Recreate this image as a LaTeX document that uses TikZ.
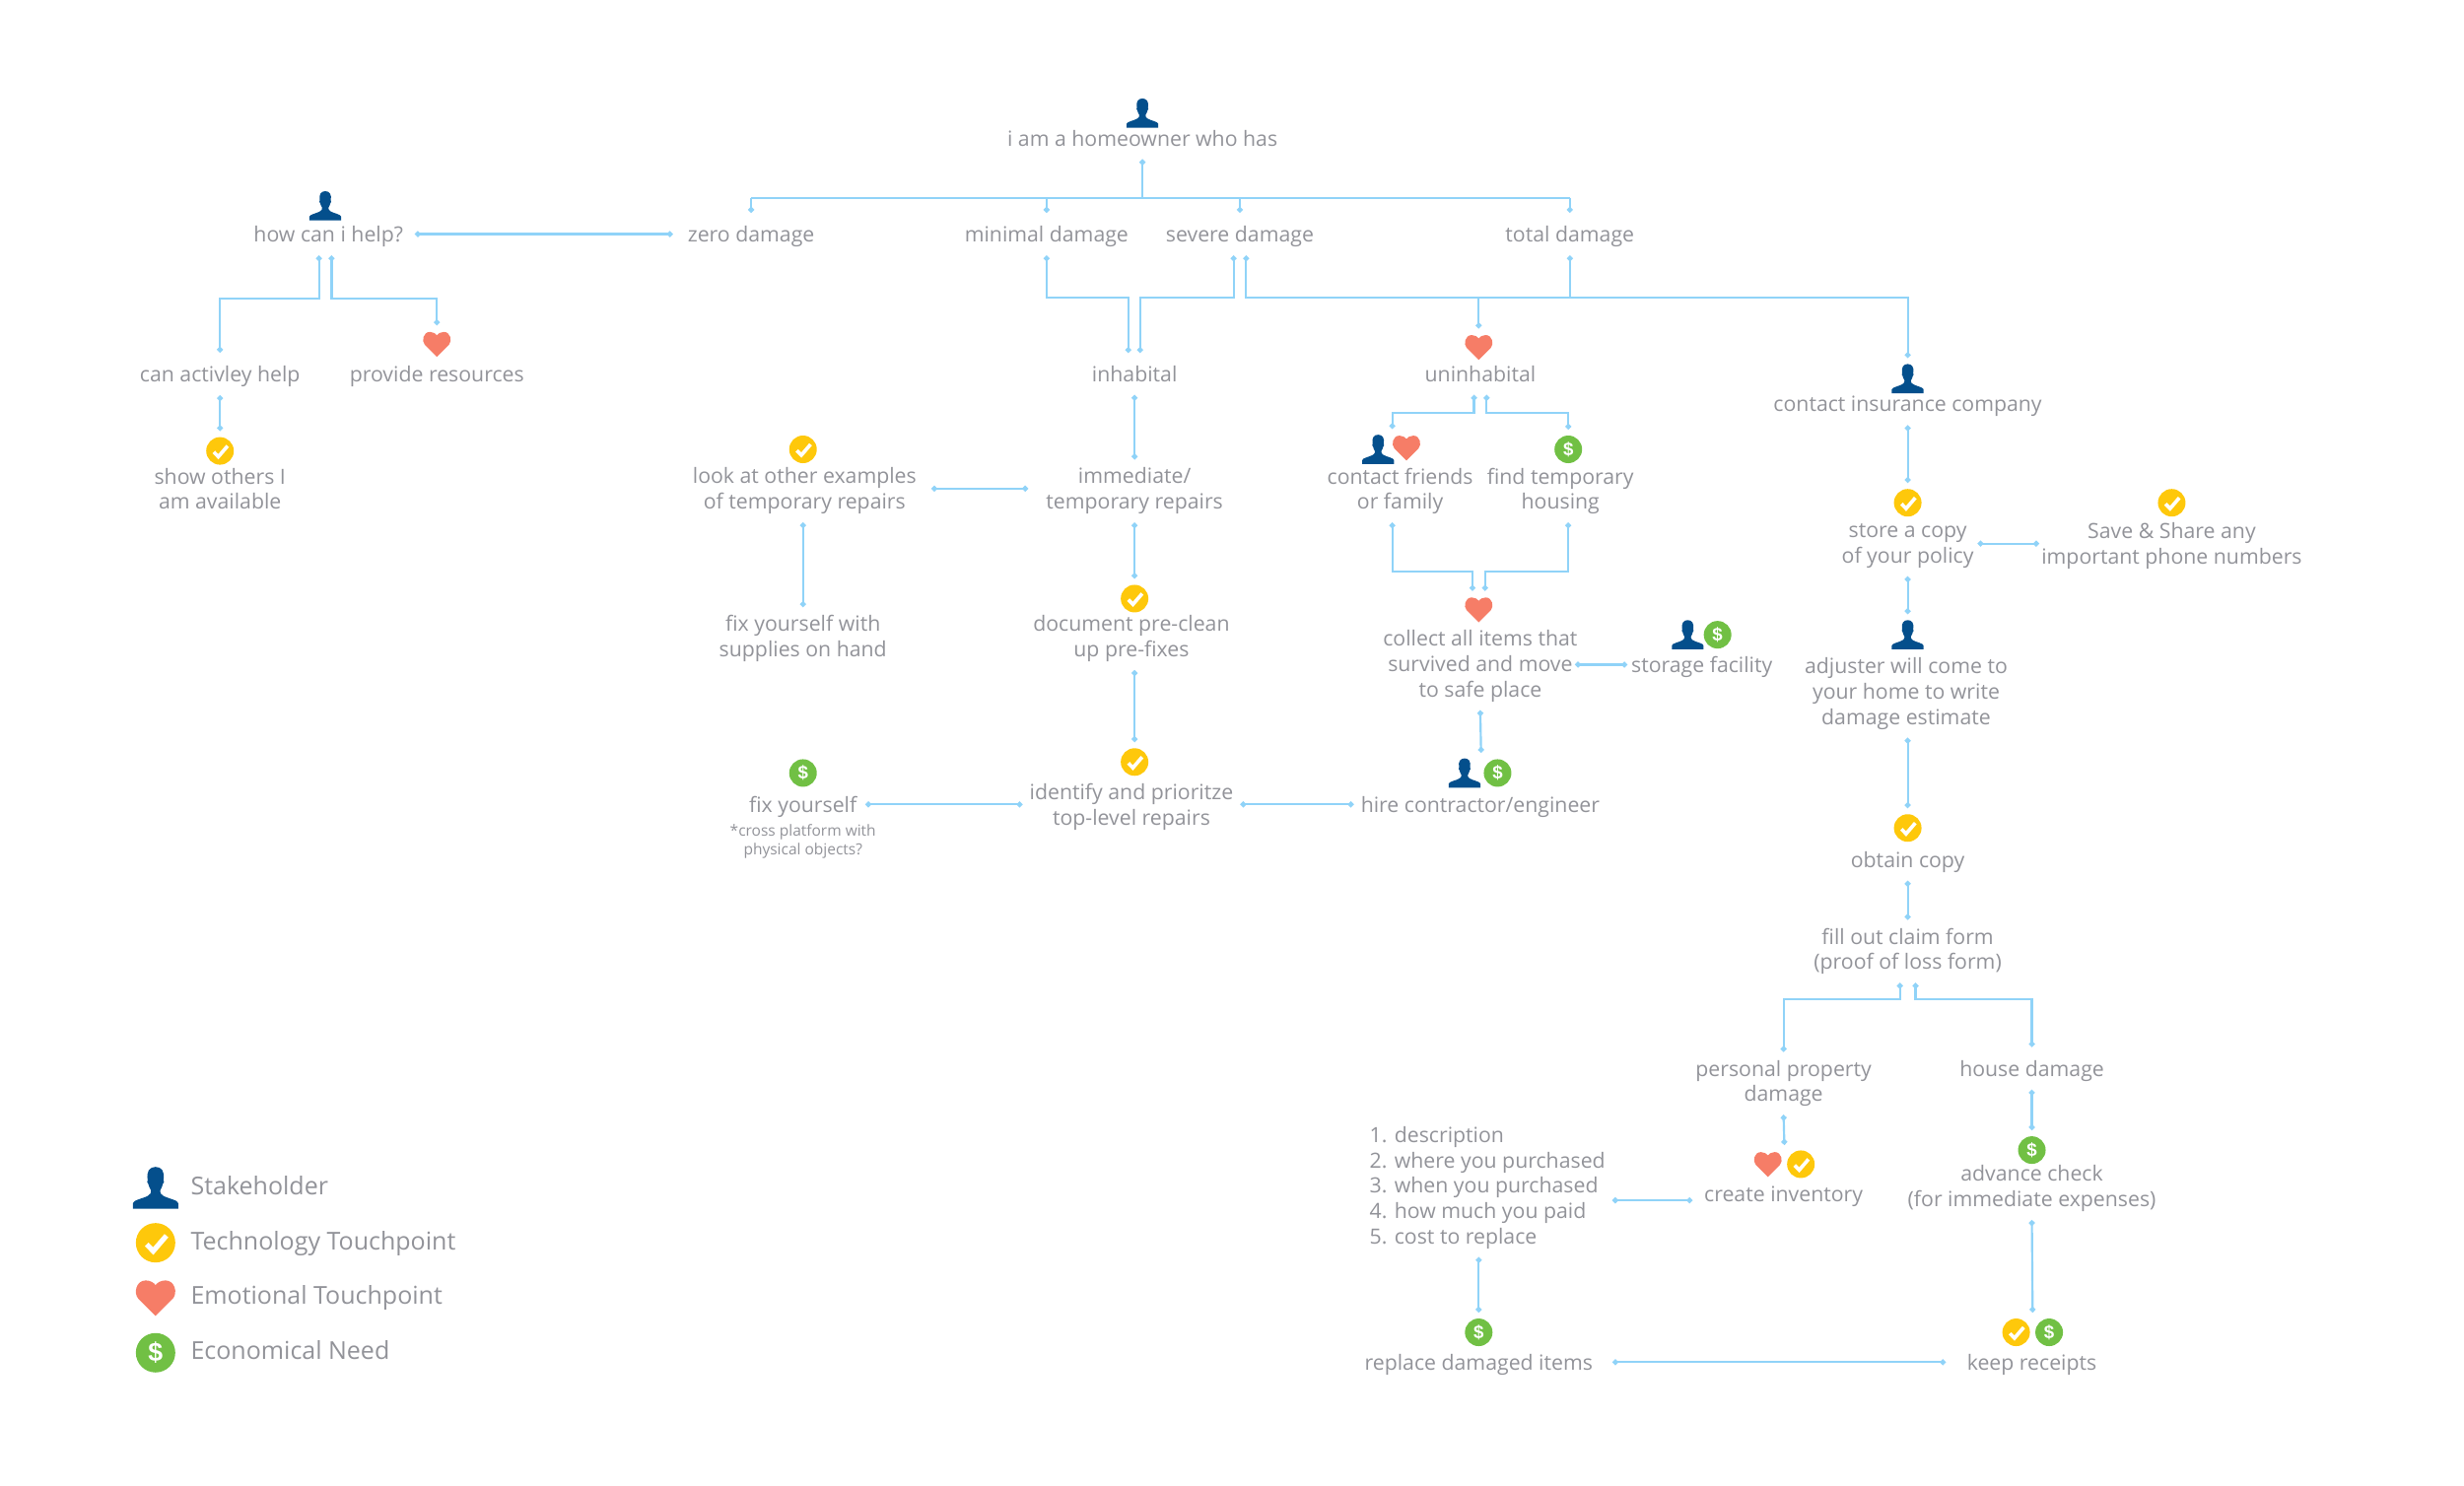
\documentclass[tikz,border=0pt]{standalone}
\usepackage{fontspec}
\setmainfont{Open Sans}
\newfontfamily\iconfont{Liberation Sans}
\usetikzlibrary{arrows.meta,calc}
\definecolor{txtc}{HTML}{929399}
\definecolor{linec}{HTML}{90D3F8}
\definecolor{persc}{HTML}{044F8C}
\definecolor{techc}{HTML}{FEC80B}
\definecolor{heartc}{HTML}{F67D67}
\definecolor{monc}{HTML}{71C044}
\newdimen\du \du=0.4783pt
\newcommand\lblstrut{\rule[-0.17\baselineskip]{0pt}{\baselineskip}}
\tikzset{
 lbl/.style={text=txtc,align=center,inner ysep=2.4pt,inner xsep=2pt,font=\fontsize{6.38}{7.68}\selectfont,
   execute at begin node=\lblstrut,execute at end node=\lblstrut},
 smalllbl/.style={lbl,font=\fontsize{4.65}{5.6}\selectfont},
 listlbl/.style={lbl,align=left,anchor=west},
 leglbl/.style={text=txtc,anchor=west,inner sep=0pt,text height=5.7pt,text depth=1.6pt,font=\fontsize{7.5}{9}\selectfont},
 conn/.style={draw=linec,line width=0.65pt,{Circle[length=1.7pt]}-{Circle[length=1.7pt]}},
 connin/.style={draw=linec,line width=0.65pt,-{Circle[length=1.7pt]}},
 connout/.style={draw=linec,line width=0.65pt,{Circle[length=1.7pt]}-},
 connbus/.style={draw=linec,line width=0.65pt},
 techicon/.default=8.4pt,
 techicon/.style={circle,fill=techc,minimum size=#1,inner sep=0pt,outer sep=1.9pt,
   path picture={\begin{scope}[shift={(path picture bounding box.center)},x=#1,y=#1]
     \draw[white,line width=0.13*#1,miter limit=10] (-.225,-.04) -- (-.06,-.21) -- (.275,.18);
   \end{scope}}},
 moneyicon/.default=8.4pt,
 moneyicon/.style={circle,fill=monc,minimum size=#1,inner sep=0pt,outer sep=1.9pt,text=white,
   font=\iconfont\bfseries\fontsize{5.6}{5.6}\selectfont},
 legmoney/.style={moneyicon=12pt,font=\iconfont\bfseries\fontsize{8}{8}\selectfont},
 hearticon/.default=8.4pt,
 hearticon/.style={rectangle,minimum width=#1,minimum height=0.92*#1,inner sep=0pt,outer sep=1.9pt,
   path picture={\begin{scope}[shift={(path picture bounding box.center)},x=#1,y=#1]
     \fill[heartc] (0,-.46) -- (-.44,-.02) .. controls (-.56,.11) and (-.5,.44) .. (-.25,.44)
       .. controls (-.13,.44) and (-.04,.38) .. (0,.32)
       .. controls (.04,.38) and (.13,.44) .. (.25,.44)
       .. controls (.5,.44) and (.56,.11) .. (.44,-.02) -- cycle;
   \end{scope}}},
 personicon/.default=8.4pt,
 personicon/.style={rectangle,minimum width=1.2*#1,minimum height=1.06*#1,inner sep=0pt,outer sep=1.9pt,
   path picture={\begin{scope}[shift={(path picture bounding box.center)},x=#1,y=#1]
     \fill[persc] (-.575,-.53) -- (-.575,-.39) .. controls (-.57,-.31) and (-.3,-.27) .. (-.19,-.2)
       .. controls (-.13,-.17) and (-.11,-.12) .. (-.115,-.07)
       .. controls (-.16,0) and (-.17,.05) .. (-.185,.1)
       .. controls (-.22,.11) and (-.22,.17) .. (-.2,.2)
       .. controls (-.24,.42) and (-.15,.53) .. (0,.53)
       .. controls (.15,.53) and (.24,.42) .. (.2,.2)
       .. controls (.22,.17) and (.22,.11) .. (.185,.1)
       .. controls (.17,.05) and (.16,0) .. (.115,-.07)
       .. controls (.11,-.12) and (.13,-.17) .. (.19,-.2)
       .. controls (.3,-.27) and (.57,-.31) .. (.575,-.39) -- (.575,-.53) -- cycle;
   \end{scope}}},
}
\begin{document}
\begin{tikzpicture}[x=0.4783pt,y=-0.4783pt]
\useasboundingbox (0,0) rectangle (1568,945.8);
% top
\node[personicon] (ihome) at (727,72) {};
\node[lbl] (thome) at (727,88) {i am a homeowner who has};
\node[personicon] (ihelp) at (207,131) {};
\node[lbl] (thelp) at (209,149) {how can i help?};
\node[lbl] (tzero) at (478,149) {zero damage};
\node[lbl] (tmin) at (666,149) {minimal damage};
\node[lbl] (tsev) at (789,149) {severe damage};
\node[lbl] (ttotal) at (999,149) {total damage};
% left tree
\node[lbl] (tcan) at (140,238) {can activley help};
\node[hearticon] (iprov) at (278,219) {};
\node[lbl] (tprov) at (278,238) {provide resources};
\node[techicon] (ishow) at (140,287) {};
\node[lbl] (tshow) at (140,312.5) {show others I\\am available};
% inhabital column
\node[lbl] (tinh) at (722,238) {inhabital};
\node[techicon] (ilook) at (511,286) {};
\node[lbl] (tlook) at (512,312.5) {look at other examples\\of temporary repairs};
\node[lbl] (timm) at (722,312.5) {immediate/\\temporary repairs};
\node[lbl] (tfixw) at (511,406.5) {fix yourself with\\supplies on hand};
\node[techicon] (idoc) at (722,381) {};
\node[lbl] (tdoc) at (720,406.5) {document pre-clean\\up pre-fixes};
\node[moneyicon] (ifix) at (511,492) {\$};
\node[lbl] (tfix) at (511,512) {fix yourself};
\node[smalllbl] (tcross) at (511,535.5) {*cross platform with\\physical objects?};
\node[techicon] (iid) at (722,485) {};
\node[lbl] (tid) at (720,513.5) {identify and prioritze\\top-level repairs};
% uninhabital column
\node[hearticon] (iunin) at (941,221) {};
\node[lbl] (tunin) at (942,238) {uninhabital};
\node[personicon] (ifr1) at (877,286) {};
\node[hearticon] (ifr2) at (895,285) {};
\node[lbl] (tfr) at (891,312.5) {contact friends\\or family};
\node[moneyicon] (ihou) at (998,286) {\$};
\node[lbl] (thou) at (993,312.5) {find temporary\\housing};
\node[hearticon] (icol) at (941,388) {};
\node[lbl] (tcol) at (942,424) {collect all items that\\survived and move\\to safe place};
\node[personicon] (isto1) at (1074,404) {};
\node[moneyicon] (isto2) at (1093,404) {\$};
\node[lbl] (tsto) at (1083,423) {storage facility};
\node[personicon] (ihire1) at (932,492) {};
\node[moneyicon] (ihire2) at (953,492) {\$};
\node[lbl] (thire) at (942,512) {hire contractor/engineer};
% insurance column
\node[personicon] (iins) at (1214,241) {};
\node[lbl] (tins) at (1214,257) {contact insurance company};
\node[techicon] (isto) at (1214,320) {};
\node[lbl] (tstore) at (1214,347.5) {store a copy\\of your policy};
\node[techicon] (isave) at (1382,320) {};
\node[lbl] (tsave) at (1382,347.5) {Save \& Share any\\important phone numbers};
\node[personicon] (iadj) at (1214,404) {};
\node[lbl] (tadj) at (1213,441.5) {adjuster will come to\\your home to write\\damage estimate};
\node[techicon] (iobt) at (1214,527) {};
\node[lbl] (tobt) at (1214,547) {obtain copy};
\node[lbl] (tfill) at (1214,605.5) {fill out claim form\\(proof of loss form)};
\node[lbl] (tpers) at (1135,689.5) {personal property\\damage};
\node[lbl] (thse) at (1293,680) {house damage};
\node[moneyicon] (iadv) at (1293,732) {\$};
\node[lbl] (tadv) at (1293,756.5) {advance check\\(for immediate expenses)};
\node[hearticon] (iinv1) at (1125,741) {};
\node[techicon] (iinv2) at (1146,741) {};
\node[lbl] (tinv) at (1135,760) {create inventory};
\node[listlbl] (tlist) at (867,756) {1. description\\2. where you purchased\\3. when you purchased\\4. how much you paid\\5. cost to replace};
\node[moneyicon] (irep) at (941,848) {\$};
\node[lbl] (trep) at (941,867) {replace damaged items};
\node[techicon] (ikeep1) at (1283,848) {};
\node[moneyicon] (ikeep2) at (1304,848) {\$};
\node[lbl] (tkeep) at (1293,867) {keep receipts};
% legend
\node[personicon=12pt] (lper) at (99,756) {};
\node[leglbl] (lpert) at (121,756) {Stakeholder};
\node[techicon=12pt] (ltec) at (99,791) {};
\node[leglbl] (ltect) at (121,791) {Technology Touchpoint};
\node[hearticon=12pt] (lhea) at (99,826) {};
\node[leglbl] (lheat) at (121,826) {Emotional Touchpoint};
\node[legmoney] (lmon) at (99,861) {\$};
\node[leglbl] (lmont) at (121,861) {Economical Need};
% bus heights
\coordinate (busTop) at (0,126);
\coordinate (busHelp) at (0,190);
\coordinate (busSev) at (0,189.5);
\coordinate (busUn) at (0,263);
\coordinate (busCol) at (0,364);
\coordinate (busFill) at (0,636);
\coordinate (frtop) at ($(ifr1.north)!.5!(ifr2.north)$);
\coordinate (hiretop) at ($(ihire1.north)!.5!(ihire2.north)$);
\coordinate (invtop) at ($(iinv1.north)!.5!(iinv2.north)$);
\coordinate (keeptop) at ($(ikeep1.north)!.5!(ikeep2.north)$);
% top connectors
\draw[connout] (ihome |- thome.south) -- (ihome |- busTop);
\draw[connbus] (tzero.north |- busTop) -- (ttotal.north |- busTop);
\draw[connin] (tzero.north |- busTop) -- (tzero.north);
\draw[connin] (tmin.north |- busTop) -- (tmin.north);
\draw[connin] (tsev.north |- busTop) -- (tsev.north);
\draw[connin] (ttotal.north |- busTop) -- (ttotal.north);
\draw[conn,shorten <=3\du,shorten >=5\du] (thelp.east) -- (tzero.west);
% help tree
\draw[conn] ($(ihelp |- thelp.south)+(-4,0)$) |- (tcan.north |- busHelp) -- (tcan.north);
\draw[conn] ($(ihelp |- thelp.south)+(4,0)$) |- (iprov.north |- busHelp) -- (iprov.north);
\draw[conn] (tcan.south) -- (ishow.north);
% severity to next level
\draw[conn] (tmin.south) |- ($(tinh.north |- busSev)+(-4,0)$) -- ($(tinh.north)+(-4,0)$);
\draw[conn] ($(tsev.south)+(-4,0)$) |- ($(tinh.north |- busSev)+(3.5,0)$) -- ($(tinh.north)+(3.5,0)$);
\draw[conn] ($(tsev.south)+(4,0)$) |- (iins.north |- busSev) -- (iins.north);
\draw[connin] (iunin.north |- busSev) -- (iunin.north);
\draw[connout] (ttotal.south) -- (ttotal.south |- busSev);
% inhabital column
\draw[conn] (tinh.south) -- (timm.north);
\draw[conn,shorten <=5\du,shorten >=7\du] ($(tlook.east)+(0,-1.5)$) -- ($(timm.west)+(0,-1.5)$);
\draw[conn] (tlook.south -| ilook) -- (tfixw.north -| ilook);
\draw[conn] (timm.south) -- (idoc.north);
\draw[conn] (tdoc.south -| iid) -- (iid.north);
\draw[conn,shorten <=1\du] (tfix.east) -- (tid.west |- tfix);
\draw[conn] (tid.east |- thire) -- (thire.west);
% uninhabital column
\draw[conn] ($(tunin.south)+(-4,0)$) |- (frtop |- busUn) -- (frtop);
\draw[conn] ($(tunin.south)+(4,0)$) |- (ihou.north |- busUn) -- (ihou.north);
\draw[conn] (tfr.south -| frtop) |- ($(icol.north |- busCol)+(-4,0)$) -- ($(icol.north)+(-4,0)$);
\draw[conn] (thou.south -| ihou) |- ($(icol.north |- busCol)+(4,0)$) -- ($(icol.north)+(4,0)$);
\draw[conn,shorten <=-6\du,shorten >=-2\du] (tcol.east |- tsto) -- (tsto.west);
\draw[conn] (tcol.south) -- (hiretop);
% insurance column
\draw[conn] (tins.south) -- (isto.north);
\draw[conn,shorten <=-2\du,shorten >=-3\du] ($(tstore.east)+(0,-1.5)$) -- ($(tsave.west)+(0,-1.5)$);
\draw[conn] (tstore.south) -- (iadj.north);
\draw[conn] (tadj.south -| iobt) -- (iobt.north);
\draw[conn] (tobt.south) -- (tfill.north);
\draw[conn] ($(tfill.south)+(-5,0)$) |- (tpers.north |- busFill) -- (tpers.north);
\draw[conn] ($(tfill.south)+(5,0)$) |- (thse.north |- busFill) -- (thse.north);
\draw[conn] (tpers.south) -- (invtop);
\draw[conn] (thse.south) -- (iadv.north);
\draw[conn] (tadv.south) -- (keeptop);
\draw[conn,shorten >=3\du] ($(tlist.east |- tinv)+(0,4)$) -- ($(tinv.west)+(0,4)$);
\draw[conn] (tlist.south -| irep) -- (irep.north);
\draw[conn,shorten <=8\du,shorten >=9\du] (trep.east) -- (tkeep.west);
\end{tikzpicture}
\end{document}
